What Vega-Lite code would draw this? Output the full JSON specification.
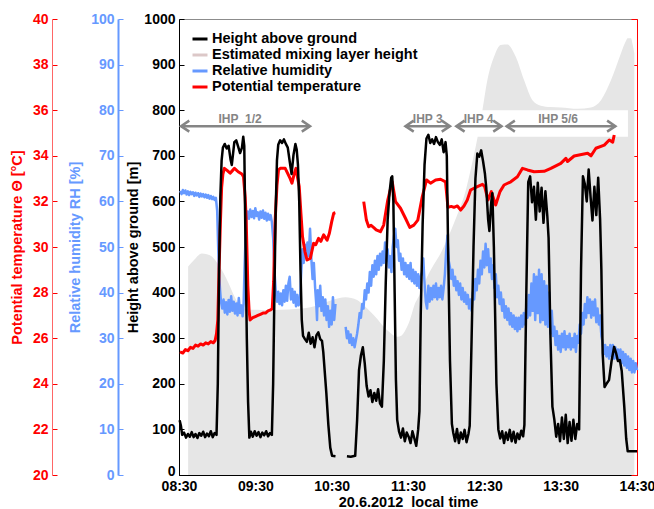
{
 "$schema": "https://vega.github.io/schema/vega-lite/v6.json",
 "width": 458, "height": 456,
 "autosize": {"type": "none"},
 "padding": {"left": 179, "top": 19, "right": 17, "bottom": 34},
 "config": {
  "view": {"stroke": "#8c8c8c", "strokeWidth": 1},
  "font": "Liberation Sans",
  "axis": {"grid": false, "labelFont": "Liberation Sans", "labelFontSize": 14, "labelFontWeight": "bold", "titleFont": "Liberation Sans", "titleFontSize": 14.5, "titleFontWeight": "bold", "tickSize": -5, "labelPadding": 9, "domainWidth": 1, "tickWidth": 1, "labelFlush": false, "labelOverlap": false}
 },
 "datasets": {
  "mix": [
   {"t":7.2,"h":457},{"t":12,"h":472},{"t":17.9,"h":486},{"t":22,"h":484},{"t":25.8,"h":479},{"t":30,"h":465},{"t":33.6,"h":450},{"t":37,"h":432},{"t":40.2,"h":413},{"t":43.5,"h":392},{"t":46.7,"h":376},{"t":50,"h":368},{"t":54.6,"h":363},{"t":65,"h":362},{"t":75.6,"h":362},{"t":96.7,"h":365},{"t":109.7,"h":373},{"t":120.3,"h":384},{"t":130.8,"h":390},{"t":140,"h":384},{"t":145,"h":373},{"t":150.5,"h":358},{"t":155.5,"h":343},{"t":160.9,"h":325},{"t":166,"h":312},{"t":171.5,"h":303},{"t":175,"h":306},{"t":178,"h":318},{"t":181.5,"h":340},{"t":184.6,"h":369},{"t":190,"h":400},{"t":195.1,"h":435},{"t":200,"h":460},{"t":205.6,"h":486},{"t":211,"h":518},{"t":216.1,"h":552},{"t":220,"h":580},{"t":224,"h":610},{"t":229.2,"h":669},{"t":233.2,"h":720},{"t":236,"h":760},{"t":238.5,"h":800},{"t":242.4,"h":866},{"t":247.6,"h":917},{"t":252.9,"h":943},{"t":258.1,"h":944},{"t":264.7,"h":917},{"t":271.2,"h":866},{"t":277.8,"h":822},{"t":284.4,"h":810},{"t":292,"h":807},{"t":300.1,"h":806},{"t":313.3,"h":803},{"t":323.8,"h":806},{"t":331.7,"h":822},{"t":339.6,"h":866},{"t":347.4,"h":925},{"t":351,"h":950},{"t":352.7,"h":958},{"t":355.3,"h":958},{"t":356.5,"h":945},{"t":357.9,"h":925}
  ],
  "box": [{"t0":170,"t1":352.9,"h0":742,"h1":800}],
  "ihp": [
   {"label":"IHP\u00a0 1/2","start":1.6,"end":103,"lt":48},
   {"label":"IHP 3","start":178,"end":213,"lt":195.5},
   {"label":"IHP 4","start":218,"end":253.5,"lt":235.5},
   {"label":"IHP 5/6","start":257.5,"end":343,"lt":298}
  ],
  "height": [
   {"t":0.5,"h":120,"s":1},{"t":1.5,"h":108,"s":1},{"t":2.5,"h":88,"s":1},{"t":4,"h":93,"s":1},{"t":5.5,"h":82,"s":1},{"t":7,"h":90,"s":1},{"t":8.5,"h":84,"s":1},{"t":10,"h":94,"s":1},{"t":11.5,"h":83,"s":1},{"t":13,"h":90,"s":1},{"t":14.5,"h":81,"s":1},{"t":16,"h":92,"s":1},{"t":17.5,"h":86,"s":1},{"t":19,"h":95,"s":1},{"t":20.5,"h":83,"s":1},{"t":22,"h":91,"s":1},{"t":23.5,"h":85,"s":1},{"t":25,"h":96,"s":1},{"t":26.5,"h":83,"s":1},{"t":28,"h":92,"s":1},{"t":29.5,"h":88,"s":1},{"t":30.5,"h":200,"s":1},{"t":31.5,"h":450,"s":1},{"t":32.5,"h":610,"s":1},{"t":33.5,"h":690,"s":1},{"t":34.5,"h":718,"s":1},{"t":36,"h":726,"s":1},{"t":37.5,"h":716,"s":1},{"t":39,"h":722,"s":1},{"t":40.5,"h":692,"s":1},{"t":41.5,"h":680,"s":1},{"t":42.5,"h":705,"s":1},{"t":43.5,"h":730,"s":1},{"t":45,"h":734,"s":1},{"t":46.5,"h":720,"s":1},{"t":48,"h":706,"s":1},{"t":49.5,"h":718,"s":1},{"t":50.5,"h":742,"s":1},{"t":51.3,"h":722,"s":1},{"t":52.3,"h":500,"s":1},{"t":53.3,"h":300,"s":1},{"t":54.3,"h":160,"s":1},{"t":55.3,"h":82,"s":1},{"t":56.5,"h":95,"s":1},{"t":58,"h":84,"s":1},{"t":59.5,"h":96,"s":1},{"t":61,"h":86,"s":1},{"t":62.5,"h":94,"s":1},{"t":64,"h":83,"s":1},{"t":65.5,"h":93,"s":1},{"t":67,"h":87,"s":1},{"t":68.5,"h":96,"s":1},{"t":70,"h":85,"s":1},{"t":71.5,"h":92,"s":1},{"t":73,"h":88,"s":1},{"t":74,"h":200,"s":1},{"t":75,"h":400,"s":1},{"t":76,"h":580,"s":1},{"t":77,"h":690,"s":1},{"t":78,"h":724,"s":1},{"t":79.5,"h":734,"s":1},{"t":81,"h":728,"s":1},{"t":82.5,"h":736,"s":1},{"t":84,"h":726,"s":1},{"t":85.5,"h":718,"s":1},{"t":87,"h":688,"s":1},{"t":88.5,"h":660,"s":1},{"t":90,"h":702,"s":1},{"t":91.5,"h":726,"s":1},{"t":92.5,"h":714,"s":1},{"t":93.5,"h":680,"s":1},{"t":94.5,"h":600,"s":1},{"t":95.5,"h":450,"s":1},{"t":96.5,"h":340,"s":1},{"t":97.5,"h":305,"s":1},{"t":99,"h":298,"s":1},{"t":100.5,"h":292,"s":1},{"t":102,"h":312,"s":1},{"t":103.5,"h":288,"s":1},{"t":105,"h":302,"s":1},{"t":106.5,"h":280,"s":1},{"t":108,"h":306,"s":1},{"t":109.5,"h":313,"s":1},{"t":111,"h":298,"s":1},{"t":112.4,"h":294,"s":1},{"t":113.4,"h":270,"s":1},{"t":115.8,"h":180,"s":1},{"t":117.4,"h":110,"s":1},{"t":118.9,"h":60,"s":1},{"t":120.3,"h":42,"s":1},{"t":123,"h":41,"s":1},
   {"t":132,"h":41,"s":2},{"t":135,"h":40,"s":2},{"t":138.5,"h":42,"s":2},{"t":140,"h":120,"s":2},{"t":141.5,"h":230,"s":2},{"t":143,"h":262,"s":2},{"t":144.5,"h":280,"s":2},{"t":146,"h":245,"s":2},{"t":147.5,"h":195,"s":2},{"t":149,"h":172,"s":2},{"t":150.5,"h":186,"s":2},{"t":152,"h":160,"s":2},{"t":153.5,"h":180,"s":2},{"t":155,"h":163,"s":2},{"t":156.5,"h":188,"s":2},{"t":158,"h":157,"s":2},{"t":159.5,"h":150,"s":2},{"t":161,"h":250,"s":2},{"t":162.5,"h":420,"s":2},{"t":164,"h":560,"s":2},{"t":165.5,"h":620,"s":2},{"t":166.8,"h":652,"s":2},{"t":167.6,"h":655,"s":2},{"t":168.5,"h":600,"s":2},{"t":169.5,"h":400,"s":2},{"t":170.5,"h":210,"s":2},{"t":171.5,"h":121,"s":2},{"t":173,"h":95,"s":2},{"t":174.5,"h":82,"s":2},{"t":176,"h":102,"s":2},{"t":177.5,"h":74,"s":2},{"t":179,"h":93,"s":2},{"t":180.5,"h":84,"s":2},{"t":182,"h":70,"s":2},{"t":183.5,"h":96,"s":2},{"t":185,"h":80,"s":2},{"t":186.5,"h":64,"s":2},{"t":188,"h":100,"s":2},{"t":189,"h":140,"s":2},{"t":190,"h":350,"s":2},{"t":191.5,"h":550,"s":2},{"t":193,"h":680,"s":2},{"t":194.5,"h":738,"s":2},{"t":196,"h":746,"s":2},{"t":197.5,"h":728,"s":2},{"t":199,"h":736,"s":2},{"t":200.5,"h":726,"s":2},{"t":202,"h":741,"s":2},{"t":203.5,"h":730,"s":2},{"t":205,"h":724,"s":2},{"t":206.5,"h":736,"s":2},{"t":208,"h":708,"s":2},{"t":209.5,"h":730,"s":2},{"t":210.5,"h":700,"s":2},{"t":211.5,"h":500,"s":2},{"t":213,"h":250,"s":2},{"t":214.5,"h":112,"s":2},{"t":215.5,"h":94,"s":2},{"t":217,"h":74,"s":2},{"t":218.5,"h":101,"s":2},{"t":220,"h":70,"s":2},{"t":221.5,"h":93,"s":2},{"t":223,"h":79,"s":2},{"t":224.5,"h":99,"s":2},{"t":226,"h":72,"s":2},{"t":227.5,"h":90,"s":2},{"t":228.5,"h":108,"s":2},{"t":230,"h":300,"s":2},{"t":231.5,"h":500,"s":2},{"t":233,"h":650,"s":2},{"t":234.5,"h":705,"s":2},{"t":236,"h":698,"s":2},{"t":237.5,"h":712,"s":2},{"t":239,"h":688,"s":2},{"t":240.5,"h":660,"s":2},{"t":241.5,"h":630,"s":2},{"t":243,"h":560,"s":2},{"t":244,"h":535,"s":2},{"t":245.5,"h":600,"s":2},{"t":246.3,"h":618,"s":2},{"t":247.5,"h":500,"s":2},{"t":248.5,"h":350,"s":2},{"t":249.5,"h":200,"s":2},{"t":251,"h":100,"s":2},{"t":252.5,"h":80,"s":2},{"t":254,"h":96,"s":2},{"t":255.5,"h":70,"s":2},{"t":257,"h":93,"s":2},{"t":258.5,"h":77,"s":2},{"t":260,"h":99,"s":2},{"t":261.5,"h":74,"s":2},{"t":263,"h":95,"s":2},{"t":264.5,"h":71,"s":2},{"t":266,"h":91,"s":2},{"t":267.5,"h":79,"s":2},{"t":269,"h":97,"s":2},{"t":270.5,"h":85,"s":2},{"t":271.5,"h":110,"s":2},{"t":273,"h":400,"s":2},{"t":274.5,"h":642,"s":2},{"t":276,"h":655,"s":2},{"t":277.5,"h":598,"s":2},{"t":279,"h":632,"s":2},{"t":280.5,"h":560,"s":2},{"t":282,"h":641,"s":2},{"t":283.5,"h":578,"s":2},{"t":285,"h":630,"s":2},{"t":286.5,"h":553,"s":2},{"t":288,"h":622,"s":2},{"t":289.5,"h":568,"s":2},{"t":290.5,"h":520,"s":2},{"t":292,"h":300,"s":2},{"t":293.5,"h":150,"s":2},{"t":295,"h":122,"s":2},{"t":296.5,"h":84,"s":2},{"t":298,"h":112,"s":2},{"t":299.5,"h":74,"s":2},{"t":301,"h":126,"s":2},{"t":302.5,"h":79,"s":2},{"t":304,"h":132,"s":2},{"t":305.5,"h":70,"s":2},{"t":307,"h":116,"s":2},{"t":308.5,"h":75,"s":2},{"t":310,"h":121,"s":2},{"t":311.5,"h":79,"s":2},{"t":313,"h":112,"s":2},{"t":314.5,"h":100,"s":2},{"t":316,"h":450,"s":2},{"t":317.5,"h":655,"s":2},{"t":319,"h":638,"s":2},{"t":320.5,"h":600,"s":2},{"t":322,"h":670,"s":2},{"t":323.5,"h":610,"s":2},{"t":325,"h":558,"s":2},{"t":326.5,"h":632,"s":2},{"t":328,"h":570,"s":2},{"t":329.5,"h":652,"s":2},{"t":331,"h":560,"s":2},{"t":332,"h":450,"s":2},{"t":333,"h":267,"s":2},{"t":334.5,"h":193,"s":2},{"t":336,"h":200,"s":2},{"t":338,"h":208,"s":2},{"t":340,"h":250,"s":2},{"t":342,"h":281,"s":2},{"t":343.5,"h":268,"s":2},{"t":345,"h":250,"s":2},{"t":346.5,"h":252,"s":2},{"t":348,"h":228,"s":2},{"t":350,"h":150,"s":2},{"t":351.5,"h":80,"s":2},{"t":352.7,"h":52,"s":2},{"t":355,"h":52,"s":2},{"t":360,"h":52,"s":2}
  ],
  "theta": [
   {"t":0.8,"v":25.4,"s":1},{"t":3,"v":25.35,"s":1},{"t":5,"v":25.5,"s":1},{"t":7,"v":25.45,"s":1},{"t":9,"v":25.6,"s":1},{"t":11,"v":25.55,"s":1},{"t":13,"v":25.7,"s":1},{"t":15,"v":25.65,"s":1},{"t":17,"v":25.75,"s":1},{"t":19,"v":25.7,"s":1},{"t":21,"v":25.8,"s":1},{"t":23,"v":25.75,"s":1},{"t":25,"v":25.85,"s":1},{"t":27,"v":25.8,"s":1},{"t":28.4,"v":25.9,"s":1},{"t":29.5,"v":26.2,"s":1},{"t":30.5,"v":26.8,"s":1},{"t":31.5,"v":29.0,"s":1},{"t":32.5,"v":31.0,"s":1},{"t":33.5,"v":32.6,"s":1},{"t":34.5,"v":33.2,"s":1},{"t":35.7,"v":33.45,"s":1},{"t":38,"v":33.35,"s":1},{"t":40.2,"v":33.24,"s":1},{"t":42,"v":33.35,"s":1},{"t":43.6,"v":33.45,"s":1},{"t":46.5,"v":33.3,"s":1},{"t":49.4,"v":33.2,"s":1},{"t":50.7,"v":33.08,"s":1},{"t":52,"v":32.2,"s":1},{"t":52.8,"v":31.2,"s":1},{"t":54.1,"v":28.3,"s":1},{"t":55.1,"v":27.2,"s":1},{"t":55.9,"v":26.8,"s":1},{"t":58,"v":26.9,"s":1},{"t":60,"v":26.95,"s":1},{"t":62,"v":27.0,"s":1},{"t":64,"v":27.05,"s":1},{"t":66,"v":27.1,"s":1},{"t":68,"v":27.1,"s":1},{"t":70,"v":27.2,"s":1},{"t":72,"v":27.24,"s":1},{"t":73.3,"v":27.3,"s":1},{"t":74.4,"v":28.5,"s":1},{"t":75.6,"v":31.2,"s":1},{"t":77,"v":32.7,"s":1},{"t":78.2,"v":33.38,"s":1},{"t":79.6,"v":33.45,"s":1},{"t":83.5,"v":33.45,"s":1},{"t":87.4,"v":33.0,"s":1},{"t":88.8,"v":32.8,"s":1},{"t":90.5,"v":33.2,"s":1},{"t":91.9,"v":33.45,"s":1},{"t":93,"v":33.1,"s":1},{"t":94.5,"v":32.65,"s":1},{"t":95.8,"v":31.5,"s":1},{"t":97.1,"v":30.45,"s":1},{"t":99,"v":29.8,"s":1},{"t":100.6,"v":29.43,"s":1},{"t":103.2,"v":29.5,"s":1},{"t":105.8,"v":30.16,"s":1},{"t":107.5,"v":30.1,"s":1},{"t":109.7,"v":30.38,"s":1},{"t":111.5,"v":30.25,"s":1},{"t":113.7,"v":30.53,"s":1},{"t":116.4,"v":30.3,"s":1},{"t":118.2,"v":30.6,"s":1},{"t":120,"v":31.1,"s":1},{"t":121.6,"v":31.48,"s":1},{"t":122.9,"v":31.5,"s":1},
   {"t":145.2,"v":31.99,"s":2},{"t":147.3,"v":31.18,"s":2},{"t":149.1,"v":30.89,"s":2},{"t":151,"v":30.95,"s":2},{"t":153.1,"v":30.85,"s":2},{"t":155,"v":30.75,"s":2},{"t":158.3,"v":30.67,"s":2},{"t":160.9,"v":30.96,"s":2},{"t":164.1,"v":32.06,"s":2},{"t":167.6,"v":32.86,"s":2},{"t":170.2,"v":31.99,"s":2},{"t":174.1,"v":31.7,"s":2},{"t":178,"v":31.26,"s":2},{"t":181.4,"v":30.86,"s":2},{"t":184.6,"v":30.96,"s":2},{"t":187.7,"v":31.18,"s":2},{"t":191.2,"v":32.2,"s":2},{"t":194.6,"v":32.94,"s":2},{"t":197.7,"v":32.8,"s":2},{"t":201.7,"v":32.94,"s":2},{"t":205.6,"v":32.97,"s":2},{"t":209.5,"v":32.86,"s":2},{"t":211.4,"v":31.74,"s":2},{"t":214,"v":31.78,"s":2},{"t":216.1,"v":31.74,"s":2},{"t":218.8,"v":31.8,"s":2},{"t":221.4,"v":31.62,"s":2},{"t":224,"v":31.8,"s":2},{"t":226.6,"v":32.06,"s":2},{"t":229.2,"v":32.5,"s":2},{"t":234.5,"v":32.65,"s":2},{"t":238.5,"v":32.75,"s":2},{"t":240.3,"v":32.65,"s":2},{"t":242.9,"v":32.06,"s":2},{"t":245.5,"v":32.43,"s":2},{"t":248.9,"v":31.84,"s":2},{"t":252.3,"v":32.43,"s":2},{"t":255.5,"v":32.72,"s":2},{"t":260.8,"v":32.86,"s":2},{"t":266,"v":33.08,"s":2},{"t":270,"v":33.45,"s":2},{"t":273.9,"v":33.38,"s":2},{"t":279.1,"v":33.3,"s":2},{"t":287,"v":33.32,"s":2},{"t":292.3,"v":33.45,"s":2},{"t":300.1,"v":33.67,"s":2},{"t":304.1,"v":33.89,"s":2},{"t":305.4,"v":33.75,"s":2},{"t":310.6,"v":33.99,"s":2},{"t":321.2,"v":34.11,"s":2},{"t":323.8,"v":34.0,"s":2},{"t":327.7,"v":34.33,"s":2},{"t":334.3,"v":34.47,"s":2},{"t":338.2,"v":34.69,"s":2},{"t":340.9,"v":34.6,"s":2},{"t":342.1,"v":34.91,"s":2}
  ],
  "rh": [
   {"t":1,"v":62.3,"s":1},{"t":2,"v":61.6,"s":1},{"t":3,"v":62.5,"s":1},{"t":4,"v":61.8,"s":1},{"t":5,"v":62.4,"s":1},{"t":6,"v":61.5,"s":1},{"t":7,"v":62.2,"s":1},{"t":8,"v":61.4,"s":1},{"t":9,"v":62.1,"s":1},{"t":10,"v":61.6,"s":1},{"t":11,"v":62.0,"s":1},{"t":12,"v":61.2,"s":1},{"t":13,"v":61.9,"s":1},{"t":14,"v":61.3,"s":1},{"t":15,"v":61.8,"s":1},{"t":16,"v":61.0,"s":1},{"t":17,"v":61.7,"s":1},{"t":18,"v":61.1,"s":1},{"t":19,"v":61.6,"s":1},{"t":20,"v":60.9,"s":1},{"t":21,"v":61.5,"s":1},{"t":22,"v":60.8,"s":1},{"t":23,"v":61.4,"s":1},{"t":24,"v":60.6,"s":1},{"t":25,"v":61.2,"s":1},{"t":26,"v":60.5,"s":1},{"t":27,"v":61.0,"s":1},{"t":28,"v":60.3,"s":1},{"t":29,"v":60.8,"s":1},{"t":30,"v":58.0,"s":1},{"t":30.8,"v":50,"s":1},{"t":31.5,"v":44,"s":1},{"t":32.3,"v":40.5,"s":1},{"t":33,"v":38,"s":1},{"t":34,"v":36.5,"s":1},{"t":35,"v":38.5,"s":1},{"t":36,"v":35.6,"s":1},{"t":37,"v":37.9,"s":1},{"t":38,"v":35.2,"s":1},{"t":39,"v":38.4,"s":1},{"t":40,"v":35.8,"s":1},{"t":41,"v":39.2,"s":1},{"t":42,"v":36.0,"s":1},{"t":43,"v":38.0,"s":1},{"t":44,"v":35.4,"s":1},{"t":45,"v":37.6,"s":1},{"t":46,"v":35.0,"s":1},{"t":47,"v":38.8,"s":1},{"t":48,"v":35.5,"s":1},{"t":49,"v":37.2,"s":1},{"t":50,"v":34.8,"s":1},{"t":50.8,"v":37.5,"s":1},{"t":51.5,"v":45,"s":1},{"t":52.3,"v":52,"s":1},{"t":53,"v":56.5,"s":1},{"t":54,"v":57.8,"s":1},{"t":55,"v":56.2,"s":1},{"t":56,"v":58.2,"s":1},{"t":57,"v":56.6,"s":1},{"t":58,"v":57.9,"s":1},{"t":59,"v":56.3,"s":1},{"t":60,"v":58.5,"s":1},{"t":61,"v":56.8,"s":1},{"t":62,"v":57.6,"s":1},{"t":63,"v":56.0,"s":1},{"t":64,"v":57.8,"s":1},{"t":65,"v":56.4,"s":1},{"t":66,"v":58.0,"s":1},{"t":67,"v":56.2,"s":1},{"t":68,"v":57.5,"s":1},{"t":69,"v":55.8,"s":1},{"t":70,"v":57.3,"s":1},{"t":71,"v":56.0,"s":1},{"t":72,"v":57.0,"s":1},{"t":73,"v":55.5,"s":1},{"t":74,"v":52,"s":1},{"t":75,"v":45,"s":1},{"t":76,"v":40.5,"s":1},{"t":77,"v":38.0,"s":1},{"t":78,"v":40.2,"s":1},{"t":79,"v":37.5,"s":1},{"t":80,"v":39.8,"s":1},{"t":81,"v":37.2,"s":1},{"t":82,"v":40.5,"s":1},{"t":83,"v":38.0,"s":1},{"t":84,"v":41.5,"s":1},{"t":85,"v":38.2,"s":1},{"t":86,"v":42.0,"s":1},{"t":87,"v":43.5,"s":1},{"t":88,"v":38.5,"s":1},{"t":89,"v":40.8,"s":1},{"t":90,"v":37.8,"s":1},{"t":91,"v":40.2,"s":1},{"t":92,"v":37.0,"s":1},{"t":93,"v":39.5,"s":1},{"t":94,"v":37.2,"s":1},{"t":95,"v":38.0,"s":1},{"t":96,"v":44,"s":1},{"t":97,"v":49.5,"s":1},{"t":98,"v":46.5,"s":1},{"t":99,"v":50.5,"s":1},{"t":100,"v":47.8,"s":1},{"t":101,"v":51.0,"s":1},{"t":102,"v":48.0,"s":1},{"t":103,"v":54.0,"s":1},{"t":104,"v":47.5,"s":1},{"t":105,"v":43.0,"s":1},{"t":106,"v":46.5,"s":1},{"t":107,"v":41.0,"s":1},{"t":108,"v":37.0,"s":1},{"t":108.5,"v":34.0,"s":1},{"t":109,"v":40.5,"s":1},{"t":110,"v":37.0,"s":1},{"t":111,"v":41.5,"s":1},{"t":112,"v":36.0,"s":1},{"t":113,"v":39.0,"s":1},{"t":114,"v":35.0,"s":1},{"t":115,"v":38.5,"s":1},{"t":116,"v":34.0,"s":1},{"t":117,"v":37.0,"s":1},{"t":118,"v":32.5,"s":1},{"t":119,"v":36.0,"s":1},{"t":120,"v":33.0,"s":1},{"t":121,"v":39.0,"s":1},{"t":122,"v":34.0,"s":1},{"t":123,"v":37.5,"s":1},
   {"t":131,"v":32.5,"s":2},{"t":132,"v":30.0,"s":2},{"t":133,"v":31.5,"s":2},{"t":134,"v":29.0,"s":2},{"t":135,"v":30.8,"s":2},{"t":136,"v":28.5,"s":2},{"t":137,"v":30.0,"s":2},{"t":138,"v":28.0,"s":2},{"t":139,"v":29.5,"s":2},{"t":140,"v":31.0,"s":2},{"t":141,"v":33.0,"s":2},{"t":142,"v":35.5,"s":2},{"t":143,"v":34.5,"s":2},{"t":144,"v":37.5,"s":2},{"t":145,"v":36.5,"s":2},{"t":146,"v":40.5,"s":2},{"t":147,"v":38.5,"s":2},{"t":148,"v":42.0,"s":2},{"t":149,"v":40.0,"s":2},{"t":150,"v":44.5,"s":2},{"t":151,"v":41.5,"s":2},{"t":152,"v":46.0,"s":2},{"t":153,"v":43.5,"s":2},{"t":154,"v":47.0,"s":2},{"t":155,"v":44.0,"s":2},{"t":156,"v":48.0,"s":2},{"t":157,"v":45.0,"s":2},{"t":158,"v":48.5,"s":2},{"t":159,"v":46.0,"s":2},{"t":160,"v":49.0,"s":2},{"t":161,"v":46.5,"s":2},{"t":162,"v":51.0,"s":2},{"t":163,"v":47.0,"s":2},{"t":164,"v":49.5,"s":2},{"t":165,"v":45.5,"s":2},{"t":166,"v":48.0,"s":2},{"t":167,"v":44.5,"s":2},{"t":168,"v":50.0,"s":2},{"t":169,"v":52.5,"s":2},{"t":170,"v":54.0,"s":2},{"t":171,"v":50.0,"s":2},{"t":172,"v":51.5,"s":2},{"t":173,"v":47.0,"s":2},{"t":174,"v":48.5,"s":2},{"t":175,"v":45.0,"s":2},{"t":176,"v":47.5,"s":2},{"t":177,"v":44.0,"s":2},{"t":178,"v":46.5,"s":2},{"t":179,"v":43.5,"s":2},{"t":180,"v":46.0,"s":2},{"t":181,"v":43.0,"s":2},{"t":182,"v":46.5,"s":2},{"t":183,"v":42.5,"s":2},{"t":184,"v":45.0,"s":2},{"t":185,"v":42.0,"s":2},{"t":186,"v":44.5,"s":2},{"t":187,"v":41.5,"s":2},{"t":188,"v":44.0,"s":2},{"t":189,"v":41.0,"s":2},{"t":190,"v":43.5,"s":2},{"t":191,"v":44.5,"s":2},{"t":192,"v":47.5,"s":2},{"t":193,"v":42.0,"s":2},{"t":194,"v":38.0,"s":2},{"t":195,"v":36.5,"s":2},{"t":196,"v":41.5,"s":2},{"t":197,"v":38.0,"s":2},{"t":198,"v":41.0,"s":2},{"t":199,"v":38.5,"s":2},{"t":200,"v":41.5,"s":2},{"t":201,"v":39.0,"s":2},{"t":202,"v":42.0,"s":2},{"t":203,"v":38.5,"s":2},{"t":204,"v":41.0,"s":2},{"t":205,"v":39.0,"s":2},{"t":206,"v":41.5,"s":2},{"t":207,"v":38.5,"s":2},{"t":208,"v":41.0,"s":2},{"t":209,"v":44.0,"s":2},{"t":210,"v":49.0,"s":2},{"t":211,"v":52.5,"s":2},{"t":212,"v":47.0,"s":2},{"t":213,"v":45.5,"s":2},{"t":214,"v":43.0,"s":2},{"t":215,"v":45.0,"s":2},{"t":216,"v":41.5,"s":2},{"t":217,"v":43.5,"s":2},{"t":218,"v":40.5,"s":2},{"t":219,"v":42.5,"s":2},{"t":220,"v":39.5,"s":2},{"t":221,"v":42.0,"s":2},{"t":222,"v":38.5,"s":2},{"t":223,"v":41.0,"s":2},{"t":224,"v":38.0,"s":2},{"t":225,"v":40.0,"s":2},{"t":226,"v":37.5,"s":2},{"t":227,"v":39.5,"s":2},{"t":228,"v":36.5,"s":2},{"t":229,"v":38.5,"s":2},{"t":230,"v":36.0,"s":2},{"t":231,"v":40.0,"s":2},{"t":232,"v":38.5,"s":2},{"t":233,"v":43.0,"s":2},{"t":234,"v":40.5,"s":2},{"t":235,"v":45.0,"s":2},{"t":236,"v":42.0,"s":2},{"t":237,"v":47.0,"s":2},{"t":238,"v":44.0,"s":2},{"t":239,"v":49.0,"s":2},{"t":240,"v":45.5,"s":2},{"t":241,"v":50.7,"s":2},{"t":242,"v":46.0,"s":2},{"t":243,"v":49.5,"s":2},{"t":244,"v":44.5,"s":2},{"t":245,"v":47.5,"s":2},{"t":246,"v":43.0,"s":2},{"t":247,"v":46.0,"s":2},{"t":248,"v":41.0,"s":2},{"t":249,"v":44.0,"s":2},{"t":250,"v":39.0,"s":2},{"t":251,"v":41.5,"s":2},{"t":252,"v":37.5,"s":2},{"t":253,"v":40.0,"s":2},{"t":254,"v":36.0,"s":2},{"t":255,"v":38.5,"s":2},{"t":256,"v":34.5,"s":2},{"t":257,"v":37.0,"s":2},{"t":258,"v":34.0,"s":2},{"t":259,"v":36.5,"s":2},{"t":260,"v":33.0,"s":2},{"t":261,"v":35.5,"s":2},{"t":262,"v":32.5,"s":2},{"t":263,"v":35.0,"s":2},{"t":264,"v":32.0,"s":2},{"t":265,"v":34.5,"s":2},{"t":266,"v":31.5,"s":2},{"t":267,"v":34.5,"s":2},{"t":268,"v":32.0,"s":2},{"t":269,"v":35.0,"s":2},{"t":270,"v":32.5,"s":2},{"t":271,"v":35.5,"s":2},{"t":272,"v":33.0,"s":2},{"t":273,"v":37.0,"s":2},{"t":274,"v":34.5,"s":2},{"t":275,"v":39.5,"s":2},{"t":276,"v":35.0,"s":2},{"t":277,"v":42.0,"s":2},{"t":278,"v":36.0,"s":2},{"t":279,"v":44.0,"s":2},{"t":280,"v":34.0,"s":2},{"t":281,"v":43.5,"s":2},{"t":282,"v":35.5,"s":2},{"t":283,"v":45.0,"s":2},{"t":284,"v":33.5,"s":2},{"t":285,"v":44.0,"s":2},{"t":286,"v":34.0,"s":2},{"t":287,"v":42.5,"s":2},{"t":288,"v":33.0,"s":2},{"t":289,"v":41.5,"s":2},{"t":290,"v":32.5,"s":2},{"t":291,"v":40.0,"s":2},{"t":292,"v":31.0,"s":2},{"t":293,"v":36.0,"s":2},{"t":294,"v":30.5,"s":2},{"t":295,"v":32.5,"s":2},{"t":296,"v":28.5,"s":2},{"t":297,"v":31.5,"s":2},{"t":298,"v":27.5,"s":2},{"t":299,"v":30.5,"s":2},{"t":300,"v":27.0,"s":2},{"t":301,"v":31.0,"s":2},{"t":302,"v":28.0,"s":2},{"t":303,"v":31.5,"s":2},{"t":304,"v":27.5,"s":2},{"t":305,"v":30.5,"s":2},{"t":306,"v":28.0,"s":2},{"t":307,"v":31.0,"s":2},{"t":308,"v":27.5,"s":2},{"t":309,"v":30.0,"s":2},{"t":310,"v":28.0,"s":2},{"t":311,"v":31.0,"s":2},{"t":312,"v":27.0,"s":2},{"t":313,"v":30.5,"s":2},{"t":314,"v":29.0,"s":2},{"t":315,"v":33.0,"s":2},{"t":316,"v":31.0,"s":2},{"t":317,"v":35.5,"s":2},{"t":318,"v":33.0,"s":2},{"t":319,"v":37.5,"s":2},{"t":320,"v":34.5,"s":2},{"t":321,"v":39.0,"s":2},{"t":322,"v":35.5,"s":2},{"t":323,"v":38.5,"s":2},{"t":324,"v":34.5,"s":2},{"t":325,"v":38.0,"s":2},{"t":326,"v":35.0,"s":2},{"t":327,"v":38.5,"s":2},{"t":328,"v":33.5,"s":2},{"t":329,"v":36.5,"s":2},{"t":330,"v":33.0,"s":2},{"t":331,"v":35.0,"s":2},{"t":332,"v":30.5,"s":2},{"t":333,"v":29.0,"s":2},{"t":334,"v":26.5,"s":2},{"t":335,"v":28.5,"s":2},{"t":336,"v":26.0,"s":2},{"t":337,"v":28.0,"s":2},{"t":338,"v":25.5,"s":2},{"t":339,"v":28.5,"s":2},{"t":340,"v":26.0,"s":2},{"t":341,"v":28.5,"s":2},{"t":342,"v":25.5,"s":2},{"t":343,"v":28.0,"s":2},{"t":344,"v":25.5,"s":2},{"t":345,"v":27.5,"s":2},{"t":346,"v":25.0,"s":2},{"t":347,"v":27.5,"s":2},{"t":348,"v":24.5,"s":2},{"t":349,"v":27.0,"s":2},{"t":350,"v":24.0,"s":2},{"t":351,"v":26.5,"s":2},{"t":352,"v":23.5,"s":2},{"t":353,"v":26.0,"s":2},{"t":354,"v":23.0,"s":2},{"t":355,"v":25.5,"s":2},{"t":356,"v":22.5,"s":2},{"t":357,"v":25.0,"s":2},{"t":358,"v":22.5,"s":2},{"t":359,"v":24.5,"s":2},{"t":360,"v":23.0,"s":2}
  ]
 },
 "resolve": {"scale": {"y": "independent"}},
 "layer": [
  {
   "data": {"name": "mix"},
   "mark": {"type": "area", "interpolate": "monotone", "fill": "#e6e6e6"},
   "encoding": {
    "x": {"field": "t", "type": "quantitative", "scale": {"domain": [0, 360], "nice": false, "zero": false},
      "axis": {"values": [0,30,60,90,120,150,180,210,240,270,300,330,360], "labelExpr": "datum.value % 60 == 0 ? (datum.value < 90 ? '0' : '') + (8 + datum.value / 60) + ':30' : ''", "title": "20.6.2012\u00a0 local time", "titleColor": "black", "labelColor": "black", "domainColor": "black", "tickColor": "black", "titlePadding": 2}},
    "y": {"field": "h", "type": "quantitative", "scale": {"domain": [0, 1000], "nice": false},
      "axis": {"orient": "left", "format": "d", "values": [0,100,200,300,400,500,600,700,800,900,1000], "title": "Height above ground [m]", "titlePadding": 3, "domainColor": "black", "tickColor": "black", "labelColor": "black", "titleColor": "black",
        "labelBaseline": {"expr": "datum.value === 0 ? 'alphabetic' : 'middle'"}}}
   }
  },
  {
   "data": {"name": "box"},
   "mark": {"type": "rect", "fill": "white"},
   "encoding": {
    "x": {"field": "t0", "type": "quantitative", "scale": {"domain": [0, 360], "nice": false, "zero": false}},
    "x2": {"field": "t1"},
    "y": {"field": "h0", "type": "quantitative", "scale": {"domain": [0, 1000], "nice": false}, "axis": null},
    "y2": {"field": "h1"}
   }
  },
  {
   "data": {"name": "ihp"},
   "mark": {"type": "rule", "color": "#858585", "strokeWidth": 2.5},
   "encoding": {
    "x": {"field": "start", "type": "quantitative", "scale": {"domain": [0, 360], "nice": false, "zero": false}},
    "x2": {"field": "end"},
    "y": {"datum": 765, "type": "quantitative", "scale": {"domain": [0, 1000], "nice": false}, "axis": null}
   }
  },
  {
   "data": {"name": "ihp"},
   "mark": {"type": "point", "shape": "M1.5,-1L0,0L1.5,1", "size": 121, "filled": false, "color": "#858585", "strokeWidth": 2.5, "opacity": 1},
   "encoding": {
    "x": {"field": "start", "type": "quantitative", "scale": {"domain": [0, 360], "nice": false, "zero": false}},
    "y": {"datum": 765, "type": "quantitative", "scale": {"domain": [0, 1000], "nice": false}, "axis": null}
   }
  },
  {
   "data": {"name": "ihp"},
   "mark": {"type": "point", "shape": "M-1.5,-1L0,0L-1.5,1", "size": 121, "filled": false, "color": "#858585", "strokeWidth": 2.5, "opacity": 1},
   "encoding": {
    "x": {"field": "end", "type": "quantitative", "scale": {"domain": [0, 360], "nice": false, "zero": false}},
    "y": {"datum": 765, "type": "quantitative", "scale": {"domain": [0, 1000], "nice": false}, "axis": null}
   }
  },
  {
   "data": {"name": "ihp"},
   "mark": {"type": "text", "font": "Liberation Sans", "fontWeight": "bold", "fontSize": 12, "color": "#858585", "align": "center", "baseline": "middle"},
   "encoding": {
    "x": {"field": "lt", "type": "quantitative", "scale": {"domain": [0, 360], "nice": false, "zero": false}},
    "y": {"datum": 781, "type": "quantitative", "scale": {"domain": [0, 1000], "nice": false}, "axis": null},
    "text": {"field": "label"}
   }
  },
  {
   "data": {"name": "rh"},
   "mark": {"type": "line", "strokeWidth": 2.5, "strokeJoin": "round"},
   "encoding": {
    "x": {"field": "t", "type": "quantitative", "scale": {"domain": [0, 360], "nice": false, "zero": false}},
    "y": {"field": "v", "type": "quantitative", "scale": {"domain": [0, 100], "nice": false},
      "axis": {"orient": "left", "offset": 61, "values": [0,10,20,30,40,50,60,70,80,90,100], "title": "Relative humidity RH [%]", "titlePadding": 8, "domainColor": "#6699ff", "tickColor": "#6699ff", "labelColor": "#6699ff", "titleColor": "#6699ff", "domainWidth": 2}},
    "detail": {"field": "s"},
    "color": {"datum": "Relative humidity", "type": "nominal",
      "scale": {"domain": ["Height above ground", "Estimated mixing layer height", "Relative humidity", "Potential temperature"], "range": ["#000000", "#dcc8c8", "#6699ff", "#ff0000"]}}
   }
  },
  {
   "data": {"name": "theta"},
   "mark": {"type": "line", "strokeWidth": 3, "strokeJoin": "round"},
   "encoding": {
    "x": {"field": "t", "type": "quantitative", "scale": {"domain": [0, 360], "nice": false, "zero": false}},
    "y": {"field": "v", "type": "quantitative", "scale": {"domain": [20, 40], "nice": false, "zero": false},
      "axis": {"orient": "left", "offset": 127, "values": [20,22,24,26,28,30,32,34,36,38,40], "title": "Potential temperature \u0398 [\u00b0C]", "titlePadding": 8, "domainColor": "#ff6666", "tickColor": "#ff0000", "labelColor": "#ff0000", "titleColor": "#ff0000"}},
    "detail": {"field": "s"},
    "color": {"datum": "Potential temperature", "type": "nominal",
      "scale": {"domain": ["Height above ground", "Estimated mixing layer height", "Relative humidity", "Potential temperature"], "range": ["#000000", "#dcc8c8", "#6699ff", "#ff0000"]}}
   }
  },
  {
   "data": {"name": "height"},
   "mark": {"type": "line", "strokeWidth": 2.5, "strokeJoin": "round"},
   "encoding": {
    "x": {"field": "t", "type": "quantitative", "scale": {"domain": [0, 360], "nice": false, "zero": false}},
    "y": {"field": "h", "type": "quantitative", "scale": {"domain": [0, 1000], "nice": false},
      "axis": {"orient": "right", "values": [0,100,200,300,400,500,600,700,800,900,1000], "labels": false, "title": null, "domainColor": "#ff0000", "tickColor": "#ff0000", "tickSize": -6}},
    "detail": {"field": "s"},
    "color": {"datum": "Height above ground", "type": "nominal",
      "scale": {"domain": ["Height above ground", "Estimated mixing layer height", "Relative humidity", "Potential temperature"], "range": ["#000000", "#dcc8c8", "#6699ff", "#ff0000"]},
      "legend": {"orient": "none", "legendX": 12, "legendY": 11, "title": null, "symbolType": "stroke", "symbolSize": 225, "symbolStrokeWidth": 3, "labelFont": "Liberation Sans", "labelFontSize": 14.5, "labelFontWeight": "bold", "labelColor": "black", "rowPadding": 0, "labelOffset": 3, "labelLimit": 400}}
   }
  }
 ]
}
